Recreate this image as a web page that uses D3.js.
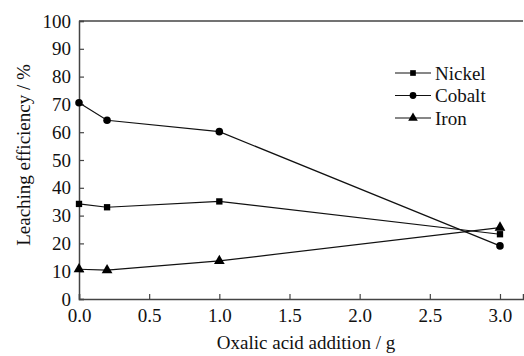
<!DOCTYPE html>
<html>
<head>
<meta charset="utf-8">
<script src="https://cdn.jsdelivr.net/npm/d3@7"></script>
<style>
  body { margin: 0; background: #fff; }
</style>
</head>
<body>
<svg id="chart" width="524" height="356"></svg>
<script>
// Data
const xValues = [0, 0.2, 1.0, 3.0];
const nickel = [34.2, 33.0, 35.1, 23.3];
const cobalt = [70.6, 64.3, 60.2, 19.1];
const iron = [10.7, 10.4, 13.7, 25.7];
const seriesNames = ["Nickel", "Cobalt", "Iron"];
const xTicks = [0, 0.5, 1.0, 1.5, 2.0, 2.5, 3.0];
const yTicks = [0, 10, 20, 30, 40, 50, 60, 70, 80, 90, 100];

const series = [
    { name: seriesNames[0], values: nickel, symbol: d3.symbolSquare, size: 40 },
    { name: seriesNames[1], values: cobalt, symbol: d3.symbolCircle, size: 45 },
    { name: seriesNames[2], values: iron, symbol: d3.symbolTriangle, size: 50 }
];

const serif = "'Liberation Serif', 'Times New Roman', Times, serif";
const svg = d3.select("#chart");
const axisColor = "#444";

// Scales (axis runs on past 3.0 to the right edge)
const x = d3.scaleLinear().domain([0, 3.164]).range([79, 523]);
const y = d3.scaleLinear().domain([0, 100]).range([299, 21]);

// Top frame line
svg.append("line")
    .attr("x1", x(0)).attr("x2", 523)
    .attr("y1", y(100)).attr("y2", y(100))
    .attr("stroke", axisColor).attr("stroke-width", 1.5);

// X axis, ticks pointing inward
svg.append("g")
    .attr("class", "x-axis")
    .attr("transform", "translate(0," + y(0) + ")")
    .call(d3.axisBottom(x).tickValues(xTicks).tickFormat(d3.format(".1f")).tickSize(-5).tickPadding(10));

// Y axis, ticks pointing inward
svg.append("g")
    .attr("class", "y-axis")
    .attr("transform", "translate(" + x(0) + ",0)")
    .call(d3.axisLeft(y).tickValues(yTicks).tickSize(-5).tickPadding(8));

svg.selectAll(".domain").attr("stroke", axisColor).attr("stroke-width", 1.5);
svg.selectAll(".tick line").attr("stroke", axisColor).attr("stroke-width", 1.2);

// Lines and markers
const line = d3.line()
    .x((d, i) => x(xValues[i]))
    .y(d => y(d));

series.forEach(s => {
    svg.append("path")
        .datum(s.values)
        .attr("fill", "none")
        .attr("stroke", "#111")
        .attr("stroke-width", 1.2)
        .attr("d", line);

    svg.selectAll(null)
        .data(s.values)
        .enter().append("path")
        .attr("transform", (d, i) => "translate(" + x(xValues[i]) + "," + y(d) + ")")
        .attr("d", d3.symbol().type(s.symbol).size(s.size))
        .attr("fill", "#000");
});

// Legend
const legend = svg.append("g");
series.forEach((s, i) => {
    const ly = 73 + i * 22.5;
    legend.append("line")
        .attr("x1", 395).attr("x2", 431)
        .attr("y1", ly).attr("y2", ly)
        .attr("stroke", "#111").attr("stroke-width", 1.2);
    legend.append("path")
        .attr("transform", "translate(413," + ly + ")")
        .attr("d", d3.symbol().type(s.symbol).size(s.size * 0.8))
        .attr("fill", "#000");
    legend.append("text")
        .attr("x", 435)
        .attr("y", ly)
        .attr("dy", "0.35em")
        .text(s.name);
});

// Axis titles
svg.append("text")
    .attr("x", 306)
    .attr("y", 349)
    .attr("text-anchor", "middle")
    .text("Oxalic acid addition / g");

svg.append("text")
    .attr("transform", "rotate(-90)")
    .attr("x", -155)
    .attr("y", 30)
    .attr("text-anchor", "middle")
    .text("Leaching efficiency / %");

// Serif type everywhere, including tick labels
svg.selectAll("text")
    .style("font-family", serif)
    .style("font-size", "19px")
    .attr("fill", "#111");
</script>
</body>
</html>
